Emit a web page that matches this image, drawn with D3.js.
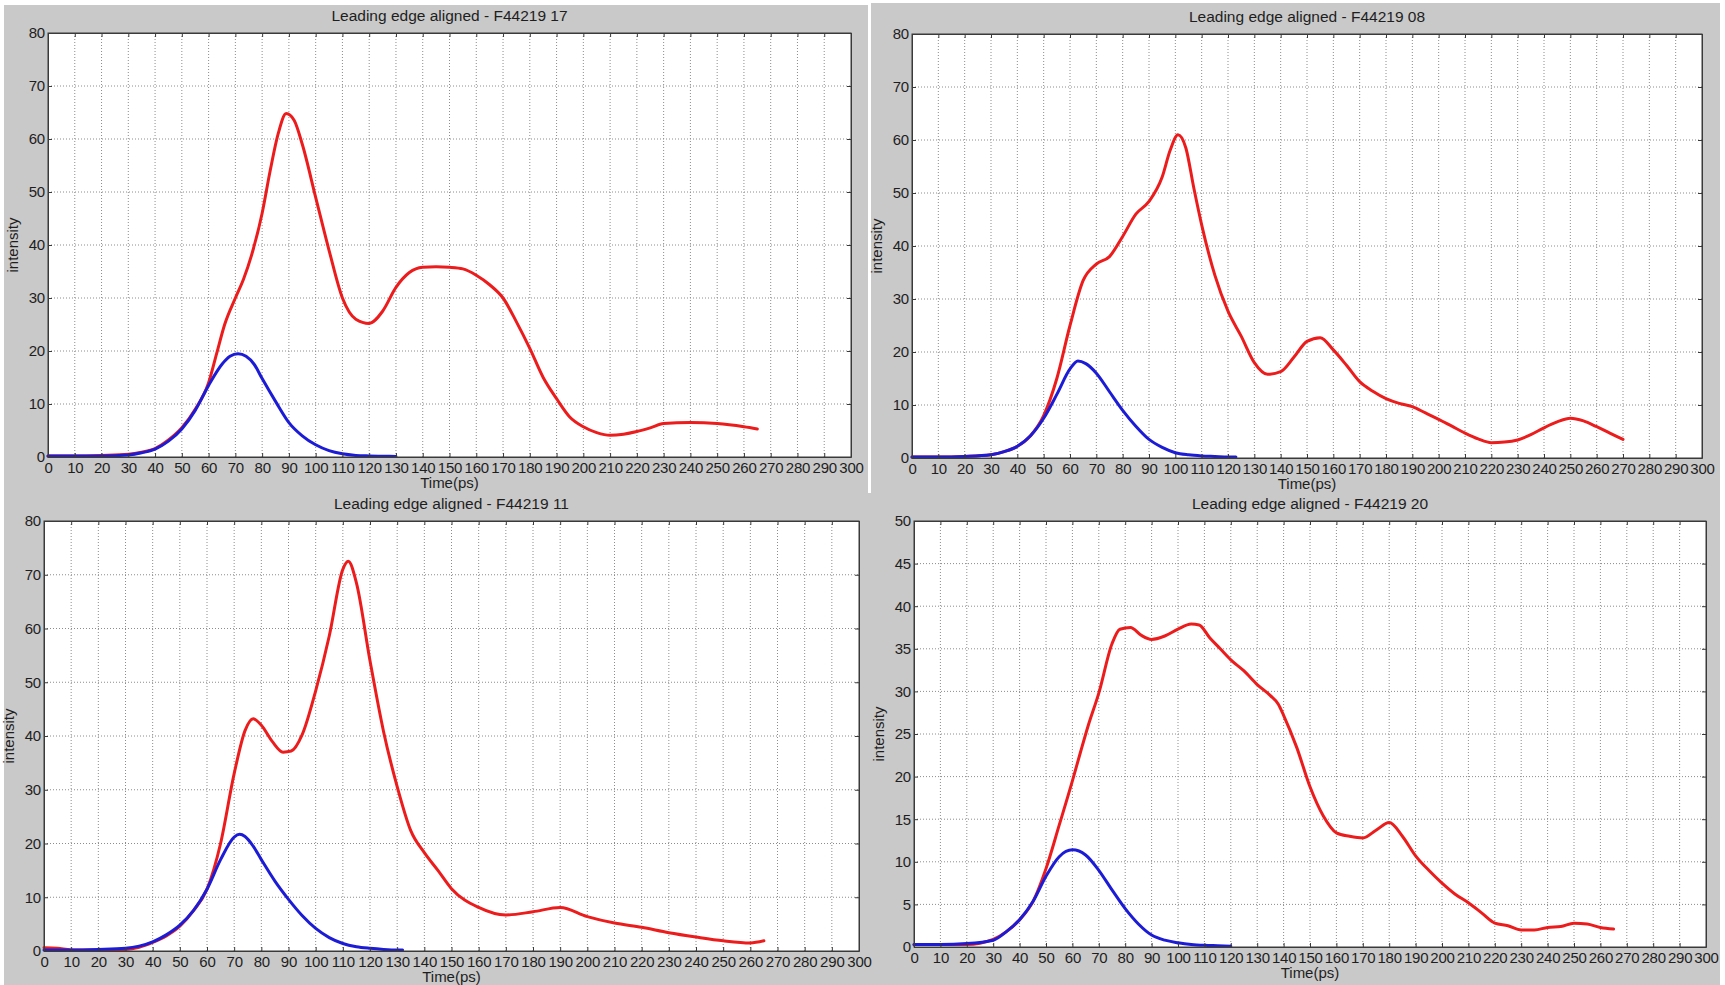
<!DOCTYPE html>
<html lang="en">
<head>
<meta charset="UTF-8">
<title>Leading edge aligned</title>
<script src="https://d3js.org/d3.v7.min.js"></script>
<style>
  body { margin: 0; background: #fff; }
  text { font-family: "Liberation Sans", Arial, sans-serif; fill: #1e1e1e; }
</style>
</head>
<body>
<script>
// tick labels
const xTicks = [0,10,20,30,40,50,60,70,80,90,100,110,120,130,140,150,160,170,180,190,200,210,220,230,240,250,260,270,280,290,300];
const yTicks80 = [0,10,20,30,40,50,60,70,80];
const yTicks50 = [0,5,10,15,20,25,30,35,40,45,50];
const titles = ["Leading edge aligned - F44219 17", "Leading edge aligned - F44219 08",
                "Leading edge aligned - F44219 11", "Leading edge aligned - F44219 20"];

// F44219 17
const time17Red = [0,10,20,30,35,40,45,50,55,60,63,66,70,73,76,80,83,86,89,92,95,100,105,110,115,120,125,130,135,140,145,150,155,160,165,170,175,180,185,190,195,200,205,210,215,220,225,230,240,250,260,265];
const red17 =     [0.2,0.2,0.3,0.5,0.9,1.6,3.2,5.5,9,14,19.5,25,30,33.5,38,46,54,61,64.8,63.5,59,49,39,30,26,25.2,27.5,32,34.8,35.8,35.9,35.8,35.5,34.3,32.5,30,25.5,20.5,15,11,7.5,5.7,4.6,4.1,4.3,4.8,5.5,6.3,6.5,6.3,5.7,5.3];
const time17Blue = [0,10,20,30,35,40,45,50,55,60,65,68,71,74,77,80,85,90,95,100,105,110,115,120,125,130];
const blue17 =     [0.2,0.2,0.2,0.4,0.8,1.5,3,5.3,8.8,13.5,17.5,19,19.5,19,17.5,14.8,10.5,6.5,4,2.3,1.2,0.6,0.3,0.2,0.15,0.1];

// F44219 08
const time08Red = [0,10,20,30,35,40,45,50,55,60,65,70,75,80,85,90,95,98,101,104,107,110,115,120,125,130,135,140,145,150,155,160,165,170,175,180,185,190,195,200,205,210,215,220,225,230,235,240,245,250,255,260,265,270];
const red08 =     [0.2,0.2,0.3,0.6,1.2,2.2,4.2,8,15,25,33.5,36.6,38,41.8,46,48.4,53,58,61,58.5,51,44,34.5,27.7,23,18,15.8,16.3,19,22,22.7,20.4,17.5,14.4,12.6,11.2,10.3,9.7,8.5,7.3,6,4.7,3.6,2.9,3,3.4,4.4,5.7,6.8,7.5,7,5.9,4.7,3.5];
const time08Blue = [0,10,20,30,35,40,45,50,55,60,63,66,70,75,80,85,90,95,100,105,110,115,120,123];
const blue08 =     [0.2,0.2,0.3,0.6,1.2,2.2,4.2,7.5,12,16.8,18.3,17.8,16,12.5,9,6,3.5,2,1,0.6,0.4,0.3,0.2,0.2];

// F44219 11
const time11Red = [0,5,10,20,30,35,40,45,50,55,60,65,70,74,77,80,84,88,91,95,100,105,110,112,115,120,125,130,135,140,145,150,160,170,180,190,200,210,220,230,240,250,260,265];
const red11 =     [0.6,0.5,0.2,0.2,0.3,0.7,1.6,2.8,4.6,7.5,11.5,20,33,41,43.2,42,39,37,37.2,40.2,48.4,58.6,71,72.5,68.5,54,40.8,30.6,22.4,18.3,15,11.6,8.1,6.7,7.3,8.1,6.4,5.2,4.4,3.4,2.6,1.9,1.5,1.9];
const time11Blue = [0,10,20,30,35,40,45,50,55,60,65,70,72,74,77,80,85,90,95,100,105,110,115,120,125,130,132];
const blue11 =     [0.2,0.2,0.3,0.5,0.9,1.7,3,4.8,7.5,11.5,17,21.2,21.7,21.3,19.5,17,13,9.6,6.6,4.2,2.5,1.4,0.8,0.5,0.3,0.2,0.2];

// F44219 20
const time20Red = [0,10,20,30,35,40,45,50,55,60,63,66,70,75,78,82,86,90,95,100,105,108,112,116,120,125,130,135,138,140,145,150,155,160,165,170,175,180,185,190,195,200,205,210,215,220,225,230,235,240,245,250,255,260,265];
const red20 =     [0.3,0.3,0.3,0.9,1.8,3.2,5.3,9.2,14.3,19.5,22.8,26,29.8,35.6,37.3,37.5,36.6,36.1,36.5,37.3,37.9,37.8,36.3,35,33.7,32.4,30.8,29.5,28.5,27.2,23.4,18.8,15.4,13.4,13,12.8,13.7,14.6,13,10.7,9,7.5,6.2,5.2,4,2.8,2.5,2,2,2.3,2.4,2.8,2.7,2.3,2.1];
const time20Blue = [0,10,20,30,35,40,45,50,55,60,65,70,75,80,85,90,95,100,105,110,115,120];
const blue20 =     [0.3,0.3,0.4,0.8,1.8,3.2,5.3,8.3,10.6,11.4,10.8,9,6.7,4.5,2.7,1.4,0.8,0.5,0.3,0.2,0.15,0.1];

// layout of the four panels (plot box in page pixels)
const panels = [
  {title: titles[0], left: 48,  top: 33,  right: 851,  bottom: 457, yMax: 80, yTicks: yTicks80,
   red: [time17Red, red17], blue: [time17Blue, blue17]},
  {title: titles[1], left: 912, top: 34,  right: 1702, bottom: 458, yMax: 80, yTicks: yTicks80,
   red: [time08Red, red08], blue: [time08Blue, blue08]},
  {title: titles[2], left: 44,  top: 521, right: 859,  bottom: 951, yMax: 80, yTicks: yTicks80,
   red: [time11Red, red11], blue: [time11Blue, blue11]},
  {title: titles[3], left: 914, top: 521, right: 1706, bottom: 947, yMax: 50, yTicks: yTicks50,
   red: [time20Red, red20], blue: [time20Blue, blue20]}
];

const W = 1725, H = 985;
const svg = d3.select("body").append("svg").attr("width", W).attr("height", H);

// screenshot backgrounds
svg.append("rect").attr("width", W).attr("height", H).attr("fill", "#fff");
svg.append("rect").attr("x", 4).attr("y", 5).attr("width", 864).attr("height", 488).attr("fill", "#c9c9c9");
svg.append("rect").attr("x", 871).attr("y", 3).attr("width", 849).attr("height", 490).attr("fill", "#c9c9c9");
svg.append("rect").attr("x", 4).attr("y", 493).attr("width", 1716).attr("height", 492).attr("fill", "#c9c9c9");

panels.forEach((p, i) => {
  const x = d3.scaleLinear().domain([0, 300]).range([p.left, p.right]);
  const y = d3.scaleLinear().domain([0, p.yMax]).range([p.bottom, p.top]);
  const g = svg.append("g");

  g.append("rect")
    .attr("x", p.left).attr("y", p.top)
    .attr("width", p.right - p.left).attr("height", p.bottom - p.top)
    .attr("fill", "#fff");

  // dotted grid
  g.selectAll(".vg").data(xTicks.slice(1, -1)).enter().append("line")
    .attr("x1", d => x(d)).attr("x2", d => x(d))
    .attr("y1", p.top).attr("y2", p.bottom)
    .attr("stroke", "#8c8c8c").attr("stroke-width", 1).attr("stroke-dasharray", "1,2");
  g.selectAll(".hg").data(p.yTicks.slice(1, -1)).enter().append("line")
    .attr("x1", p.left).attr("x2", p.right)
    .attr("y1", d => y(d)).attr("y2", d => y(d))
    .attr("stroke", "#8c8c8c").attr("stroke-width", 1).attr("stroke-dasharray", "1,2");

  const line = d3.line().x(d => x(d[0])).y(d => y(d[1])).curve(d3.curveMonotoneX);
  const redPts = d3.zip(p.red[0], p.red[1]);
  const bluePts = d3.zip(p.blue[0], p.blue[1]);

  g.append("path").datum(redPts).attr("d", line)
    .attr("fill", "none").attr("stroke", "#ec1c1c").attr("stroke-width", 3)
    .attr("stroke-linejoin", "round").attr("stroke-linecap", "round");
  g.append("path").datum(bluePts).attr("d", line)
    .attr("fill", "none").attr("stroke", "#1c1cd6").attr("stroke-width", 3)
    .attr("stroke-linejoin", "round").attr("stroke-linecap", "round");

  // axes with inward ticks
  const xAxis = g.append("g").attr("transform", `translate(0,${p.bottom})`)
    .call(d3.axisBottom(x).tickValues(xTicks).tickSize(-4).tickSizeOuter(0).tickPadding(5).tickFormat(d3.format("d")));
  const yAxis = g.append("g").attr("transform", `translate(${p.left},0)`)
    .call(d3.axisLeft(y).tickValues(p.yTicks).tickSize(-4).tickSizeOuter(0).tickPadding(3).tickFormat(d3.format("d")));
  g.append("g").attr("transform", `translate(0,${p.top})`)
    .call(d3.axisTop(x).tickValues(xTicks).tickSize(-4).tickSizeOuter(0).tickFormat(""));
  g.append("g").attr("transform", `translate(${p.right},0)`)
    .call(d3.axisRight(y).tickValues(p.yTicks).tickSize(-4).tickSizeOuter(0).tickFormat(""));

  g.selectAll(".domain").attr("stroke", "#3a3a3a");
  g.selectAll(".tick line").attr("stroke", "#3a3a3a");
  [xAxis, yAxis].forEach(a => a.selectAll("text")
    .style("font-family", '"Liberation Sans", Arial, sans-serif')
    .style("font-size", "15px").style("letter-spacing", "-0.2px").attr("fill", "#1e1e1e"));

  g.append("rect")
    .attr("x", p.left).attr("y", p.top)
    .attr("width", p.right - p.left).attr("height", p.bottom - p.top)
    .attr("fill", "none").attr("stroke", "#3a3a3a").attr("stroke-width", 1);

  // titles and labels
  g.append("text").attr("x", (p.left + p.right) / 2).attr("y", p.top - 12)
    .attr("text-anchor", "middle").style("font-size", "15.5px").text(p.title);
  g.append("text").attr("x", (p.left + p.right) / 2).attr("y", p.bottom + 31)
    .attr("text-anchor", "middle").style("font-size", "15px").text("Time(ps)");
  g.append("text")
    .attr("transform", `translate(${p.left - 30},${(p.top + p.bottom) / 2}) rotate(-90)`)
    .attr("text-anchor", "middle").style("font-size", "15px").text("intensity");
});
</script>
</body>
</html>
